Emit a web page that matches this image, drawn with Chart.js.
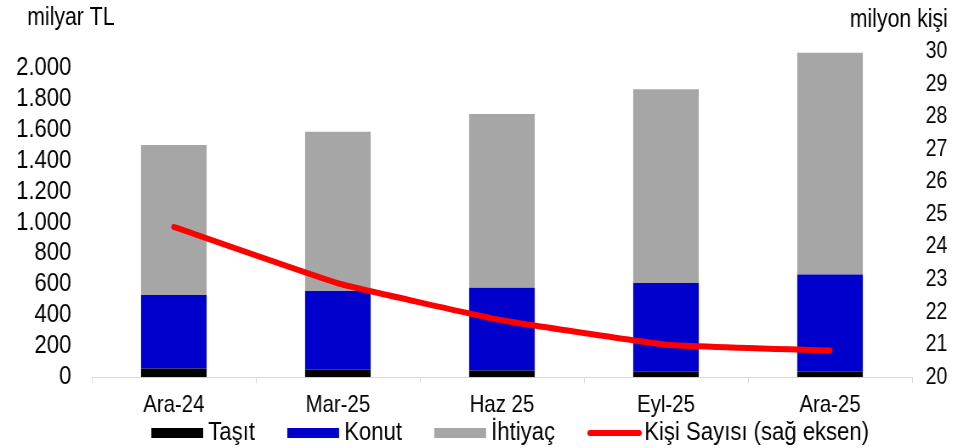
<!DOCTYPE html>
<html>
<head>
<meta charset="utf-8">
<script src="https://cdn.jsdelivr.net/npm/chart.js@4.4.1/dist/chart.umd.min.js"></script>
<style>
  html, body { margin: 0; padding: 0; background: #fff; overflow: hidden; }
  /* kaynak grafik yatayda basik; ayni orani veriyoruz */
  #wrap { width: 1122px; height: 448px; transform: scaleX(0.85); transform-origin: 0 0; }
</style>
</head>
<body>
<div id="wrap"><canvas id="kredi" width="1122" height="448"></canvas></div>
<script>
var donemler = ['Ara-24', 'Mar-25', 'Haz 25', 'Eyl-25', 'Ara-25'];
var tasit = [56, 50, 43, 37, 37];
var konut = [475, 506, 534, 571, 626];
var ihtiyac = [969, 1029, 1123, 1252, 1432];
var kisiSayisi = [24.62, 22.89, 21.75, 21.0, 20.82];
var solTikler = [0, 200, 400, 600, 800, 1000, 1200, 1400, 1600, 1800, 2000];

var fontAile = '"Liberation Sans", Arial, sans-serif';

function trSayi(v) {
    return String(v).replace(/\B(?=(\d{3})+(?!\d))/g, '.');
}

// eksen birimleri (ustte yatay yazi)
var birimYazilari = {
    id: 'birimYazilari',
    afterDraw: function(chart) {
        var ctx = chart.ctx;
        ctx.save();
        ctx.fillStyle = '#000';
        ctx.font = '25px ' + fontAile;
        ctx.textBaseline = 'middle';
        ctx.textAlign = 'left';
        ctx.fillText('milyar TL', 32, 18);
        ctx.textAlign = 'right';
        ctx.fillText('milyon kişi', 1115, 20);
        ctx.restore();
    }
};

// alttaki lejant
var lejant = {
    id: 'lejant',
    afterDraw: function(chart) {
        var ctx = chart.ctx;
        var sira = [1, 2, 3, 0];
        var x = 178;
        var y = 433;
        ctx.save();
        ctx.font = '26px ' + fontAile;
        ctx.textBaseline = 'middle';
        ctx.textAlign = 'left';
        sira.forEach(function(i) {
            var ds = chart.data.datasets[i];
            if (ds.type === 'line') {
                ctx.strokeStyle = ds.borderColor;
                ctx.lineWidth = 6;
                ctx.lineCap = 'round';
                ctx.beginPath();
                ctx.moveTo(x + 3, y);
                ctx.lineTo(x + 61, y);
                ctx.stroke();
            } else {
                ctx.fillStyle = ds.backgroundColor;
                ctx.fillRect(x, y - 5, 61, 10);
            }
            ctx.fillStyle = '#000';
            ctx.fillText(ds.label, x + 67, y);
            x += 67 + ctx.measureText(ds.label).width + 38;
        });
        ctx.restore();
    }
};

var canvas = document.getElementById('kredi');
new Chart(canvas, {
    type: 'bar',
    data: {
        labels: donemler,
        datasets: [
            {
                label: 'Kişi Sayısı (sağ eksen)',
                type: 'line',
                data: kisiSayisi,
                yAxisID: 'ySag',
                borderColor: '#ff0000',
                backgroundColor: '#ff0000',
                borderWidth: 6,
                borderCapStyle: 'round',
                borderJoinStyle: 'round',
                pointRadius: 0,
                tension: 0.1,
                order: 0
            },
            {
                label: 'Taşıt',
                data: tasit,
                backgroundColor: '#000000',
                stack: 's',
                yAxisID: 'ySol',
                order: 1
            },
            {
                label: 'Konut',
                data: konut,
                backgroundColor: '#0000cc',
                stack: 's',
                yAxisID: 'ySol',
                order: 1
            },
            {
                label: 'İhtiyaç',
                data: ihtiyac,
                backgroundColor: '#a6a6a6',
                stack: 's',
                yAxisID: 'ySol',
                order: 1
            }
        ]
    },
    options: {
        responsive: false,
        animation: false,
        devicePixelRatio: 1,
        layout: { padding: { top: 52, left: 0, right: 0, bottom: 20 } },
        datasets: {
            bar: { barPercentage: 0.4, categoryPercentage: 1.0 }
        },
        plugins: {
            tooltip: { enabled: false },
            legend: { display: false }
        },
        scales: {
            x: {
                stacked: true,
                offset: true,
                grid: {
                    offset: true,
                    drawOnChartArea: false,
                    drawTicks: true,
                    tickLength: 6,
                    color: '#d9d9d9'
                },
                border: { color: '#d9d9d9', width: 1 },
                ticks: {
                    color: '#000',
                    padding: 8,
                    maxRotation: 0,
                    font: { family: fontAile, size: 24 }
                }
            },
            ySol: {
                type: 'linear',
                position: 'left',
                stacked: true,
                min: 0,
                max: 2100,
                afterBuildTicks: function(axis) {
                    axis.ticks = solTikler.map(function(v) { return { value: v }; });
                },
                afterFit: function(axis) { axis.width = 108; },
                grid: { display: false, drawTicks: false },
                border: { display: false },
                ticks: {
                    color: '#000',
                    padding: 24,
                    autoSkip: false,
                    font: { family: fontAile, size: 26 },
                    callback: function(v) { return trSayi(v); }
                }
            },
            ySag: {
                type: 'linear',
                position: 'right',
                min: 20,
                max: 30,
                afterFit: function(axis) { axis.width = 49; },
                grid: { display: false, drawTicks: false },
                border: { display: false },
                ticks: {
                    color: '#000',
                    padding: 16,
                    stepSize: 1,
                    autoSkip: false,
                    font: { family: fontAile, size: 23 }
                }
            }
        }
    },
    plugins: [birimYazilari, lejant]
});
</script>
</body>
</html>
